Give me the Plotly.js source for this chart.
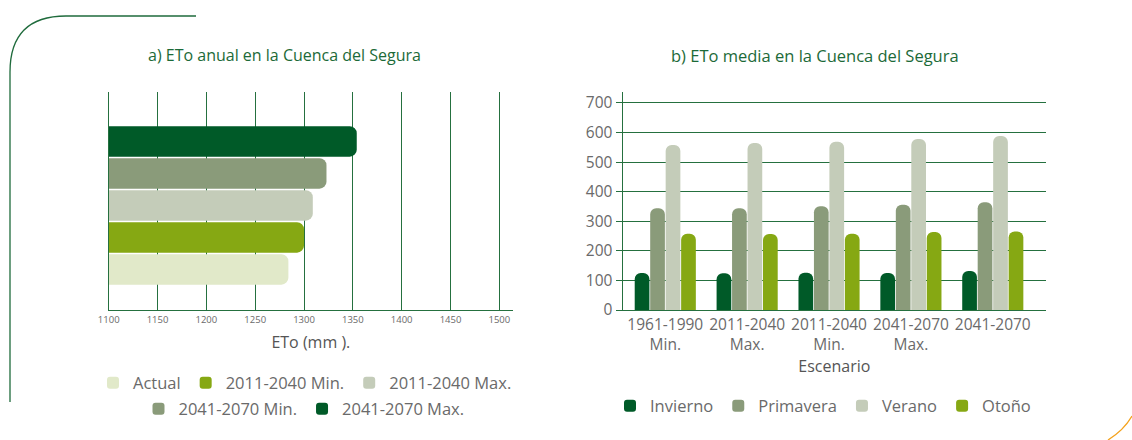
<!DOCTYPE html>
<html>
<head>
<meta charset="utf-8">
<script src="https://cdn.plot.ly/plotly-3.0.1.min.js"></script>
<style>
  body { margin: 0; background: #fff; }
  #wrap { position: relative; width: 1132px; height: 440px; }
  #chart { position: absolute; left: 0; top: 0; width: 1132px; height: 440px; }
  #deco { position: absolute; left: 0; top: 0; pointer-events: none; }
</style>
</head>
<body>
<div id="wrap">
  <div id="chart"></div>
  <svg id="deco" width="1132" height="440">
    <path d="M10,402 V72 Q10,16 66,16 H196" fill="none" stroke="#1f6b3c" stroke-width="1.3"/>
    <path d="M1108,440 Q1124,430 1132,416" fill="none" stroke="#f4a21c" stroke-width="1.3"/>
  </svg>
</div>
<script>
// a) ETo anual
const escenariosAnual = ['Actual', '2011-2040 Min.', '2011-2040 Max.', '2041-2070 Min.', '2041-2070 Max.'];
const etoAnual = [1284, 1300, 1309, 1323, 1354];
const coloresAnual = ['#e1e9c9', '#86a813', '#c4ccb9', '#8a9b7a', '#005a28'];

// b) ETo media por estacion
const escenarios = ['1961-1990<br>Min.', '2011-2040<br>Max.', '2011-2040<br>Min.', '2041-2070<br>Max.', '2041-2070'];
const estaciones = ['Invierno', 'Primavera', 'Verano', 'Otoño'];
const invierno = [125, 124, 126, 125, 132];
const primavera = [344, 344, 351, 356, 364];
const verano = [558, 565, 569, 578, 588];
const otono = [258, 257, 258, 264, 265];
const coloresEstacion = ['#005a28', '#8a9b7a', '#c4ccb9', '#86a813'];

const verde = '#25703f';
const gris = '#6a6a6a';
const fuente = 'Open Sans, sans-serif';
const W = 1132, H = 440;

const traces = [];

escenariosAnual.forEach((nombre, i) => {
    traces.push({
        type: 'bar',
        orientation: 'h',
        x: [etoAnual[i]],
        y: [0],
        name: nombre,
        marker: {color: coloresAnual[i], cornerradius: 7},
        xaxis: 'x',
        yaxis: 'y',
        legend: i < 3 ? 'legend' : 'legend2',
        hoverinfo: 'x+name'
    });
});

const valoresEstacion = [invierno, primavera, verano, otono];
estaciones.forEach((nombre, i) => {
    traces.push({
        type: 'bar',
        x: escenarios,
        y: valoresEstacion[i],
        name: nombre,
        marker: {color: coloresEstacion[i], cornerradius: 6},
        xaxis: 'x2',
        yaxis: 'y2',
        legend: 'legend3'
    });
});

const yDom = [1 - 310 / H, 1 - 92 / H];

const legendaBase = {
    orientation: 'h',
    xanchor: 'center',
    yanchor: 'middle',
    bgcolor: 'rgba(0,0,0,0)',
    font: {family: fuente, size: 16.5, color: gris},
    itemclick: false
};

const layout = {
    width: W,
    height: H,
    margin: {l: 0, r: 0, t: 0, b: 0},
    paper_bgcolor: '#fff',
    plot_bgcolor: 'rgba(0,0,0,0)',
    font: {family: fuente, color: gris},
    barmode: 'group',
    bargap: 0.244,
    bargroupgap: 0.05,
    xaxis: {
        domain: [108.7 / W, 513 / W],
        range: [1100, 1514],
        tick0: 1100,
        dtick: 50,
        showgrid: true,
        gridcolor: verde,
        gridwidth: 1,
        zeroline: false,
        showline: true,
        linecolor: verde,
        linewidth: 1.2,
        ticks: '',
        tickfont: {size: 9.5, color: gris},
        title: {text: 'ETo (mm ).', font: {size: 16, color: '#555'}, standoff: 12}
    },
    yaxis: {
        domain: yDom,
        range: [-0.494, 0.536],
        showticklabels: false,
        showgrid: false,
        zeroline: false,
        showline: true,
        linecolor: verde,
        ticks: ''
    },
    xaxis2: {
        domain: [622.7 / W, 1046 / W],
        anchor: 'y2',
        type: 'category',
        range: [-0.52, 4.65],
        showgrid: false,
        zeroline: false,
        showline: true,
        linecolor: verde,
        linewidth: 1.2,
        ticks: '',
        tickfont: {size: 15.5, color: gris},
        title: {text: 'Escenario', font: {size: 16, color: '#555'}, standoff: 6}
    },
    yaxis2: {
        domain: yDom,
        anchor: 'x2',
        range: [0, 737],
        dtick: 100,
        showgrid: true,
        gridcolor: verde,
        gridwidth: 1,
        zeroline: false,
        showline: true,
        linecolor: verde,
        linewidth: 1.2,
        ticks: 'outside',
        ticklen: 6,
        tickcolor: verde,
        tickfont: {size: 15.5, color: gris}
    },
    legend: Object.assign({}, legendaBase, {x: 305 / W, y: 1 - 383 / H}),
    legend2: Object.assign({}, legendaBase, {x: 304 / W, y: 1 - 409 / H}),
    legend3: Object.assign({}, legendaBase, {x: 823 / W, y: 1 - 406 / H}),
    annotations: [
        {
            text: 'a) ETo anual en la Cuenca del Segura',
            xref: 'paper', yref: 'paper', x: 284 / W, y: 1 - 55 / H,
            xanchor: 'center', yanchor: 'middle', showarrow: false,
            font: {family: fuente, size: 16, color: '#1c6a38'}
        },
        {
            text: 'b) ETo media en la Cuenca del Segura',
            xref: 'paper', yref: 'paper', x: 815 / W, y: 1 - 55 / H,
            xanchor: 'center', yanchor: 'middle', showarrow: false,
            font: {family: fuente, size: 16.5, color: '#1c6a38'}
        }
    ]
};

Plotly.newPlot('chart', traces, layout, {displayModeBar: false, staticPlot: true});
</script>
</body>
</html>
